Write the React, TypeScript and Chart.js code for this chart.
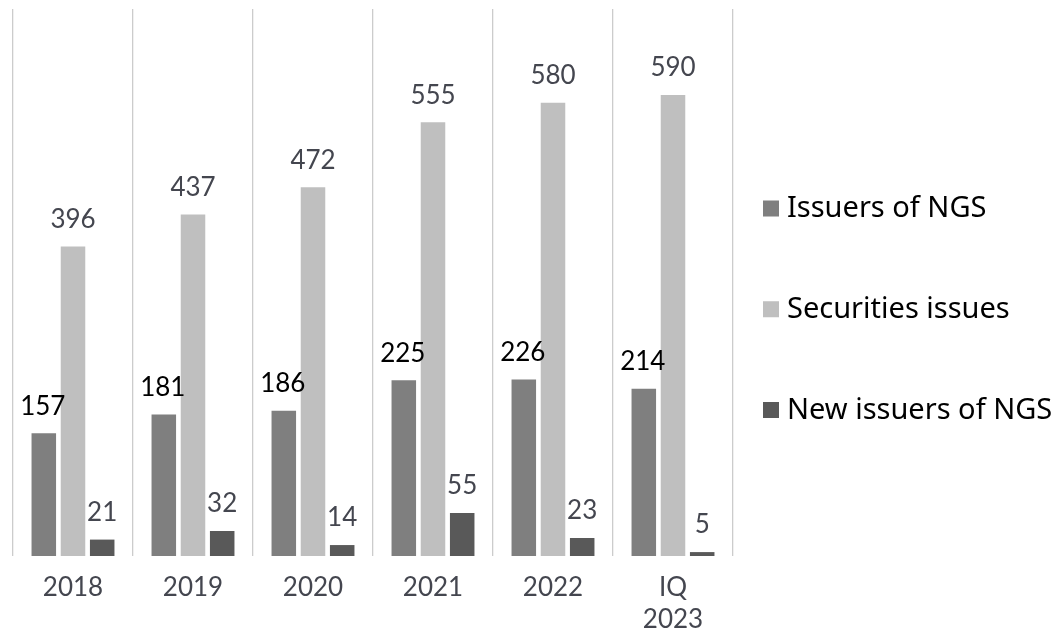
import React, { useEffect, useRef } from "react";
import { Chart, registerables } from "chart.js";

Chart.register(...registerables);

const categories: (string | string[])[] = ["2018", "2019", "2020", "2021", "2022", ["IQ", "2023"]];
const seriesNames = ["Issuers of NGS", "Securities issues", "New issuers of NGS"];
const issuers = [157, 181, 186, 225, 226, 214];
const securities = [396, 437, 472, 555, 580, 590];
const newIssuers = [21, 32, 14, 55, 23, 5];
const barColors = ["#7F7F7F", "#BFBFBF", "#595959"];
const labelColors = ["#000000", "#44464F", "#44464F"];

const valueLabels = {
  id: "valueLabels",
  afterDatasetsDraw(chart: any) {
    const ctx = chart.ctx;
    chart.data.datasets.forEach((ds: any, i: number) => {
      const meta = chart.getDatasetMeta(i);
      meta.data.forEach((el: any, j: number) => {
        ctx.save();
        ctx.font = "26px Lato";
        ctx.fillStyle = labelColors[i];
        ctx.textAlign = "center";
        ctx.textBaseline = "middle";
        ctx.fillText(String(ds.data[j]), el.x - (i === 0 ? 1 : 0), el.y - 27);
        ctx.restore();
      });
    });
  },
};

const sideLegend = {
  id: "sideLegend",
  afterDraw(chart: any) {
    const ctx = chart.ctx;
    const x0 = chart.chartArea.right + 30;
    chart.data.datasets.forEach((ds: any, i: number) => {
      const cy = 208.5 + i * 100.75;
      ctx.save();
      ctx.fillStyle = ds.backgroundColor;
      ctx.fillRect(x0, cy - 8, 16, 16);
      ctx.font = "29px 'Noto Sans'";
      ctx.fillStyle = "#000000";
      ctx.textAlign = "left";
      ctx.textBaseline = "alphabetic";
      ctx.fillText(ds.label, x0 + 24, cy + 8.5);
      ctx.restore();
    });
  },
};

export default function App() {
  const ref = useRef<HTMLCanvasElement>(null);
  useEffect(() => {
    if (!ref.current) return;
    const chart = new Chart(ref.current, {
      type: "bar",
      data: {
        labels: categories,
        datasets: [issuers, securities, newIssuers].map((d, i) => ({
          label: seriesNames[i],
          data: d,
          backgroundColor: barColors[i],
          categoryPercentage: 0.73,
          barPercentage: 0.84,
        })),
      },
      options: {
        responsive: false,
        animation: false,
        devicePixelRatio: 1,
        layout: { padding: { left: 13, top: 9, right: 323, bottom: 0 } },
        plugins: { legend: { display: false }, tooltip: { enabled: false } },
        scales: {
          x: {
            grid: { display: true, offset: true, color: "#CCCCCC", lineWidth: 1.3, drawTicks: false },
            border: { display: false },
            ticks: {
              padding: 16,
              color: "#44464F",
              font: { family: "Lato", size: 26, lineHeight: 32 / 26 },
              maxRotation: 0,
              autoSkip: false,
            },
          },
          y: { display: false, min: 0, max: 700 },
        },
      },
      plugins: [valueLabels, sideLegend],
    });
    return () => chart.destroy();
  }, []);
  return (
    <div style={{ position: "fixed", left: 0, top: 0, width: 1056, height: 652, background: "#fff" }}>
      <canvas ref={ref} width={1056} height={652} />
    </div>
  );
}
